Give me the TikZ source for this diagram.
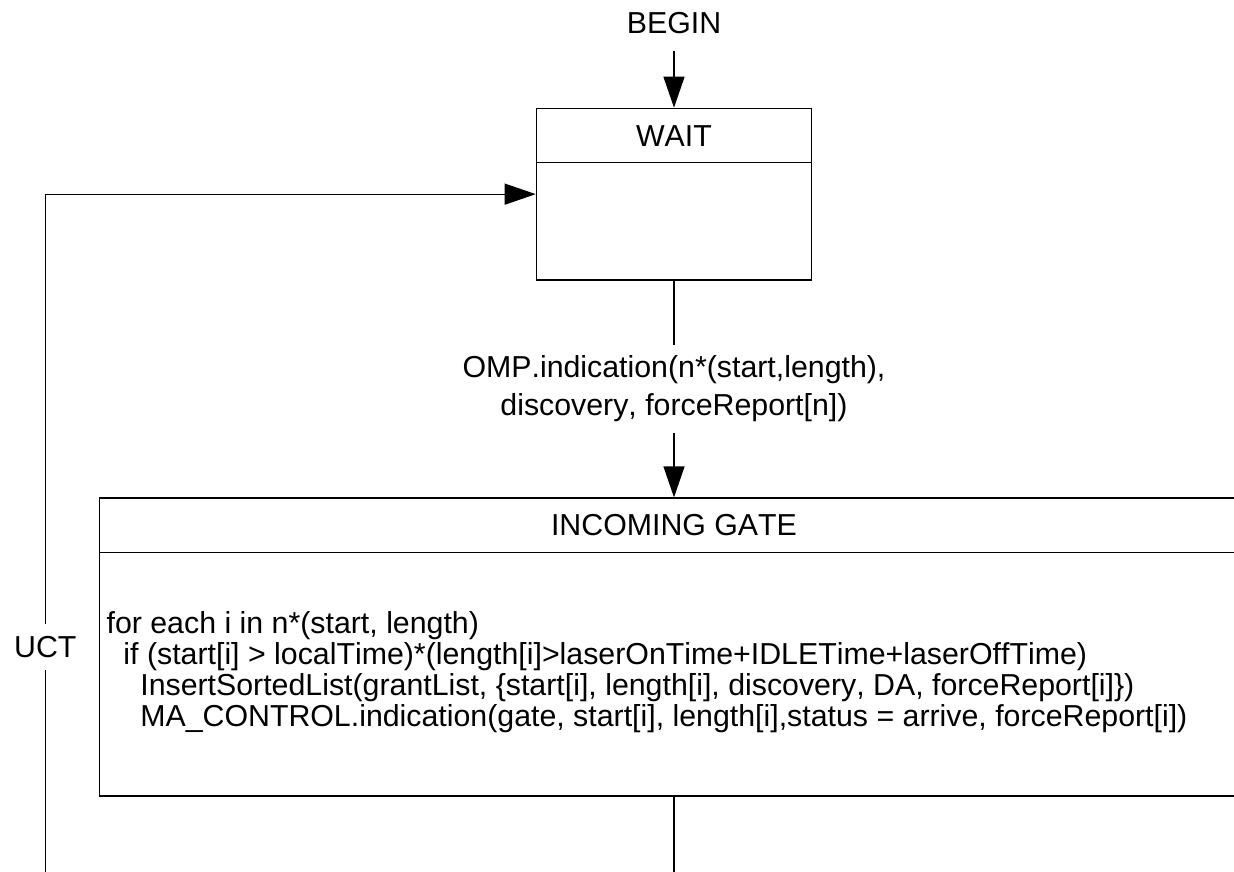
\documentclass[tikz,border=0pt]{standalone}
\usepackage{fontspec}
\setmainfont[Kerning=Off]{Liberation Sans}
\usetikzlibrary{arrows.meta}

\begin{document}
\begin{tikzpicture}[
  line width=0.7pt,
  every node/.style={font=\fontsize{17.25pt}{21.6pt}\selectfont},
  state/.style={draw, inner sep=0pt},
  arr/.style={-{Triangle[length=0.62cm, width=0.42cm]}},
  lbl/.style={fill=white, inner xsep=2pt},
]
\useasboundingbox (0,0) rectangle (24.68,-17.44);
\clip (0,0) rectangle (24.68,-17.44);

\node[inner ysep=0.33cm, anchor=base] (begin) at (13.48,-0.666) {BEGIN};

\node[state, minimum width=5.506cm, minimum height=3.434cm] (wait) at (13.48,-3.883) {};
\node[anchor=base] (waittitle) at (13.48,-2.934) {WAIT};
\draw ([yshift=-1.1cm]wait.north west) -- ([yshift=-1.1cm]wait.north east);

\node[state, minimum width=22.98cm, minimum height=5.96cm] (gate) at (13.48,-12.94) {};
\node[anchor=base] (gatetitle) at (13.48,-10.7) {INCOMING GATE};
\draw ([yshift=-1.1cm]gate.north west) -- ([yshift=-1.1cm]gate.north east);
\node[anchor=north west, inner sep=0pt, align=left,
      font=\fontsize{17.25pt}{17.6pt}\selectfont] (gatebody) at (2.12,-12.22)
  {for each i in n*(start, length)\\
   \hspace*{0.556em}if (start[i] > localTime)*(length[i]>laserOnTime+IDLETime+laserOffTime)\\
   \hspace*{1.112em}InsertSortedList(grantList, \{start[i], length[i], discovery, DA, forceReport[i]\})\\
   \hspace*{1.112em}MA\_CONTROL.indication(gate, start[i], length[i],status = arrive, forceReport[i])};

\coordinate (gatefoot) at (13.48,-17.6);
\coordinate (uctfoot) at (0.906,-17.6);

\draw[arr] (begin.south) -- (wait.north);
\draw[arr] (wait.south) -- node[lbl, inner ysep=0.21cm, align=center]
  {OMP.indication(n*(start,length),\\discovery, forceReport[n])} (gate.north);
\draw (gate.south) -- (gatefoot);
\draw[arr] (uctfoot) -- (uctfoot |- gate.center) node[lbl, inner ysep=0.245cm] (uct) {UCT}
  -- (uctfoot |- wait.west) -- (wait.west);

\end{tikzpicture}
\end{document}
